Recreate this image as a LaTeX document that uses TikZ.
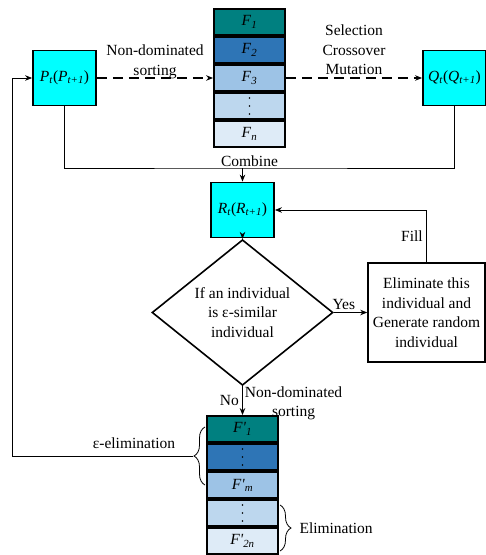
\documentclass[tikz,border=0pt]{standalone}
\usepackage{fontspec}
\setmainfont{Liberation Serif}
\usetikzlibrary{arrows.meta,shapes.geometric,decorations.pathreplacing}

\definecolor{popcyan}{RGB}{0,255,255}
\definecolor{frontA}{RGB}{0,128,128}
\definecolor{frontB}{RGB}{46,117,182}
\definecolor{frontC}{RGB}{157,195,230}
\definecolor{frontD}{RGB}{189,215,238}
\definecolor{frontE}{RGB}{222,235,247}

\newcommand{\idx}[2]{\textit{#1}\textsubscript{\textit{#2}}}

\tikzset{
  popbox/.style={draw, line width=1.8pt, fill=popcyan, minimum width=63pt,
    minimum height=55pt, inner sep=0pt},
  front/.style={draw, line width=1.8pt, minimum width=71pt, minimum height=26pt,
    inner sep=0pt},
  conn/.style={->, line width=0.8pt},
  dashflow/.style={->, line width=1.8pt, dash pattern=on 10pt off 6pt},
  bracket/.style={decorate, decoration={brace, amplitude=11pt}, line width=0.8pt}
}

\begin{document}
\begin{tikzpicture}[>={Stealth[length=7pt, width=5.5pt]}, x=1pt, y=-1pt,
    every node/.style={font=\fontsize{15.5}{19.5}\selectfont}]
  \useasboundingbox (0,0) rectangle (486,555);
  % Population boxes
  \node[popbox] (P) at (64.5,78) {\idx{P}{t}(\idx{P}{t+1})};
  \node[popbox] (Q) at (454.5,78) {\idx{Q}{t}(\idx{Q}{t+1})};
  \node[popbox] (R) at (242.5,210) {\idx{R}{t}(\idx{R}{t+1})};
  % Fronts after sorting
  \foreach \name/\col/\txt [count=\k from 0] in {f1/frontA/{\idx{F}{1}},
      f2/frontB/{\idx{F}{2}}, f3/frontC/{\idx{F}{3}}, f4/frontD/{},
      f5/frontE/{\idx{F}{n}}} {
    \node[front, fill=\col] (\name) at (249.5, {22+28*\k}) {\txt};
  }
  % Fronts of the merged population
  \foreach \name/\col/\txt [count=\k from 0] in {g1/frontA/{\idx{F\textquotesingle}{1}},
      gdotsA/frontB/{}, gm/frontC/{\idx{F\textquotesingle}{m}}, gdotsB/frontD/{},
      g2n/frontE/{\idx{F\textquotesingle}{2n}}} {
    \node[front, fill=\col] (\name) at (242.5, {429+28*\k}) {\txt};
  }
  % vertical dots
  \foreach \n in {f4,gdotsA,gdotsB} {
    \foreach \d in {-8,0,8} {
      \fill ([yshift=\d pt]\n.center) circle (0.9pt);
    }
  }
  % Decision and replacement
  \node[diamond, draw, line width=1.6pt, minimum width=181pt, minimum height=119pt,
    inner sep=0pt, align=center] (dec) at (242.5,312.5)
    {If an individual\\is ε-similar\\individual};
  \node[draw, line width=1.6pt, minimum width=117pt, minimum height=99pt,
    align=center] (elim) at (426.5,312.5)
    {Eliminate this\\individual and\\Generate random\\individual};
  % Flow
  \draw[dashflow] (P.east) -- node[midway, yshift=16pt, align=center]
    {Non-dominated\\sorting} (f3.west);
  \draw[dashflow] (f3.east) -- node[midway, yshift=28pt, align=center]
    {Selection\\Crossover\\Mutation} (Q.west);
  \coordinate (comb) at (242.5,168);
  \draw[line width=0.8pt] (P.south) |- (comb)
    node[above, xshift=7pt, inner sep=1pt] {Combine} -| (Q.south);
  \draw[conn] (comb) -- (R.north);
  \draw[conn] (R.south) -- (dec.north);
  \draw[conn] (dec.east) -- node[pos=0.3, above, inner sep=2pt] {Yes} (elim.west);
  \draw[conn] (elim.north) |- node[pos=0.25, left] {Fill} (R.east);
  \draw[conn] (dec.south) -- node[pos=0.5, left] {No}
    node[pos=0.6, right, align=center, inner sep=2pt] {Non-dominated\\sorting} (g1.north);
  % Braces
  \draw[bracket] (205,485) -- (205,427);
  \coordinate (keep) at (193,456);
  \coordinate (loop) at (12,456);
  \draw[conn] (keep) -- (loop) |- (P.west);
  \node at (134,443) {ε-elimination};
  \draw[bracket] (280,505) -- (280,551);
  \node[anchor=west] (drop) at (296,528) {Elimination};
\end{tikzpicture}
\end{document}
